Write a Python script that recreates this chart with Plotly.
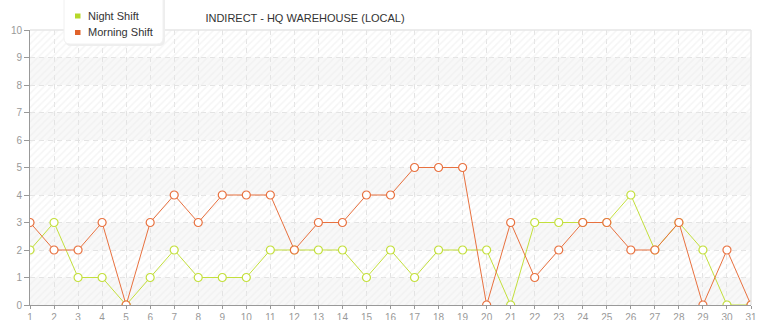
import plotly.graph_objects as go

days = list(range(1, 32))
night_shift = [2, 3, 1, 1, 0, 1, 2, 1, 1, 1, 2, 2, 2, 2, 1, 2, 1, 2, 2, 2, 0, 3, 3, 3, 3, 4, 2, 3, 2, 0, 0]
morning_shift = [3, 2, 2, 3, 0, 3, 4, 3, 4, 4, 4, 2, 3, 3, 4, 4, 5, 5, 5, 0, 3, 1, 2, 3, 3, 2, 2, 3, 0, 2, 0]
y_ticks = list(range(0, 11))
series_names = ["Night Shift", "Morning Shift"]
title_text = "INDIRECT - HQ WAREHOUSE (LOCAL)"

GREEN = "#c3df3c"
GREEN_LEG = "#b6d829"
ORANGE = "#e8713f"
ORANGE_LEG = "#e0622a"
FONT = "Liberation Sans, Arial, sans-serif"

W, H = 765, 320
ML, MR, MT, MB = 30, 14, 30, 15
PW, PH = W - ML - MR, H - MT - MB


def px(xp):
    return (xp - ML) / PW


def py(yp):
    return (H - MB - yp) / PH


fig = go.Figure()

# hatched background
fig.add_trace(go.Bar(
    x=[16], y=[10], width=[30], base=0,
    marker=dict(color="rgba(0,0,0,0)", line=dict(width=0),
                pattern=dict(shape="/", fgcolor="#ececec", bgcolor="rgba(0,0,0,0)",
                             size=5, solidity=0.3)),
    hoverinfo="skip", showlegend=False,
))

for name, vals, col in [(series_names[0], night_shift, GREEN), (series_names[1], morning_shift, ORANGE)]:
    fig.add_trace(go.Scatter(
        x=days, y=vals, mode="lines+markers", name=name, showlegend=False,
        line=dict(color=col, width=1),
        marker=dict(symbol="circle", size=8, color="white", line=dict(color=col, width=1.2)),
    ))

shapes = []
for k in range(0, 10, 2):
    shapes.append(dict(type="rect", xref="x", yref="y", x0=1, x1=31, y0=k, y1=k + 1,
                       fillcolor="#f8f8f8", line=dict(width=0), layer="below"))
# top and right border
shapes.append(dict(type="line", xref="paper", yref="paper", x0=0, x1=1, y0=1, y1=1,
                   line=dict(color="#e6e6e6", width=1.5)))
shapes.append(dict(type="line", xref="paper", yref="paper", x0=1, x1=1, y0=0, y1=1,
                   line=dict(color="#e6e6e6", width=1.5)))


def rounded(x0, y0, x1, y1, r):
    return (f"M {px(x0 + r)},{py(y0)} L {px(x1 - r)},{py(y0)} Q {px(x1)},{py(y0)} {px(x1)},{py(y0 + r)} "
            f"L {px(x1)},{py(y1 - r)} Q {px(x1)},{py(y1)} {px(x1 - r)},{py(y1)} "
            f"L {px(x0 + r)},{py(y1)} Q {px(x0)},{py(y1)} {px(x0)},{py(y1 - r)} "
            f"L {px(x0)},{py(y0 + r)} Q {px(x0)},{py(y0)} {px(x0 + r)},{py(y0)} Z")


# legend box (shadow + box)
shapes.append(dict(type="path", xref="paper", yref="paper", path=rounded(65, -10, 165, 46, 6),
                   fillcolor="#eeeeee", line=dict(width=0), layer="above"))
shapes.append(dict(type="path", xref="paper", yref="paper", path=rounded(64, -10, 163, 44, 6),
                   fillcolor="white", line=dict(color="#f0f0f0", width=1), layer="above"))
annotations = []
for i, (name, col) in enumerate(zip(series_names, [GREEN_LEG, ORANGE_LEG])):
    yc = 16 + 16.5 * i
    shapes.append(dict(type="rect", xref="paper", yref="paper",
                       x0=px(75), x1=px(80.5), y0=py(yc - 2.5), y1=py(yc + 2.5),
                       fillcolor=col, line=dict(width=0), layer="above"))
    annotations.append(dict(text=name, xref="paper", yref="paper", x=px(85.5), y=py(yc),
                            xanchor="left", yanchor="middle", showarrow=False,
                            font=dict(family=FONT, size=11, color="#333333")))

fig.update_layout(
    width=W, height=H,
    margin=dict(l=ML, r=MR, t=MT, b=MB),
    paper_bgcolor="white", plot_bgcolor="white",
    font=dict(family=FONT, size=11, color="#333333"),
    title=dict(text=title_text, x=305 / W, xanchor="center", xref="container",
               y=1 - 18 / H, yanchor="middle", yref="container",
               font=dict(family=FONT, size=11, color="#333333")),
    shapes=shapes,
    annotations=annotations,
    bargap=0,
    showlegend=False,
    xaxis=dict(range=[1, 31], tickmode="array", tickvals=days, ticktext=[str(d) for d in days],
               showgrid=True, gridcolor="#e3e3e3", griddash="5px,4px", gridwidth=1,
               showline=True, linecolor="#999999", linewidth=1,
               ticks="outside", ticklen=3, tickcolor="#999999",
               tickfont=dict(family=FONT, size=10, color="#999999"),
               zeroline=False, fixedrange=True, automargin=False),
    yaxis=dict(range=[0, 10], tickmode="array", tickvals=y_ticks,
               showgrid=True, gridcolor="#e3e3e3", griddash="5px,4px", gridwidth=1,
               showline=True, linecolor="#999999", linewidth=1,
               ticks="outside", ticklen=5, tickcolor="#999999",
               tickfont=dict(family=FONT, size=10, color="#999999"),
               zeroline=False, fixedrange=True, automargin=False),
)

fig.write_html("out.html")
